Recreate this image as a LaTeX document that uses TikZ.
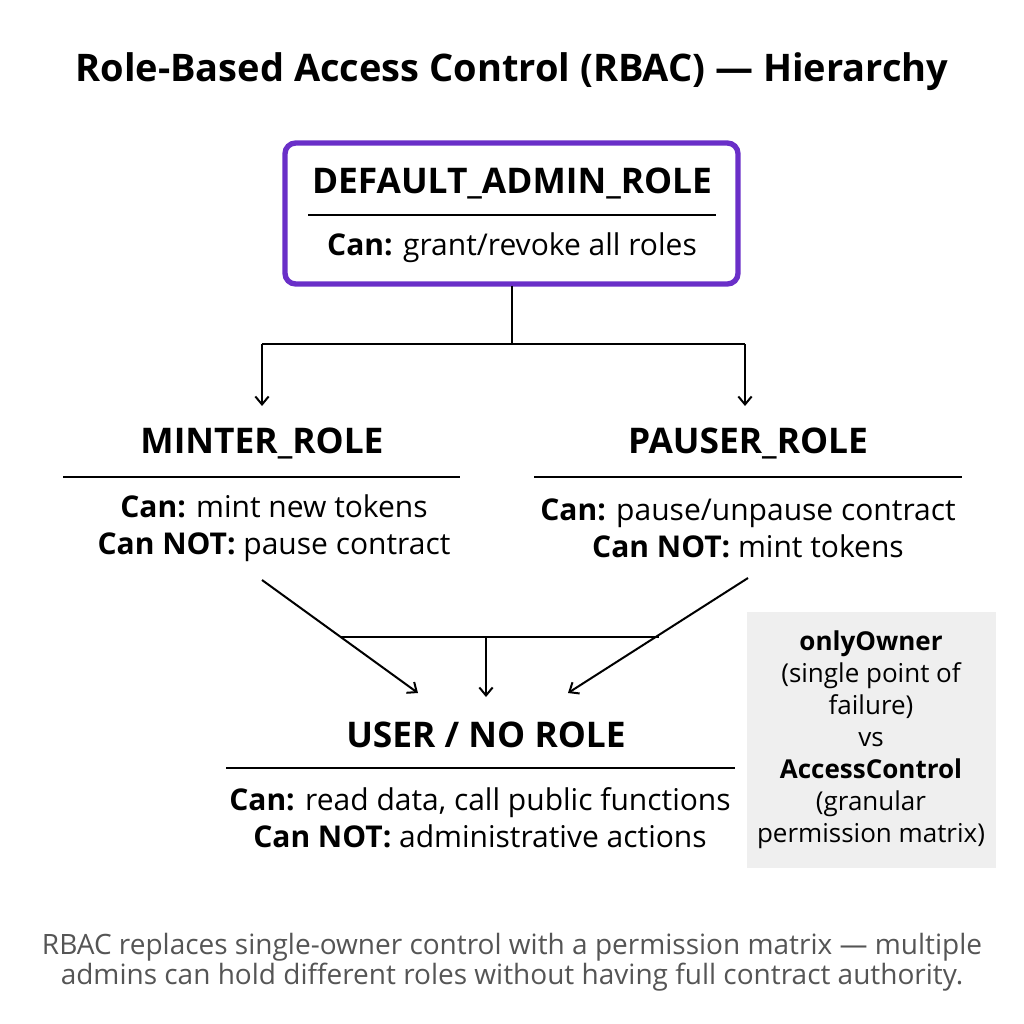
\documentclass[tikz,border=0pt]{standalone}
\usepackage{fontspec}
\setmainfont{Open Sans}
\usetikzlibrary{arrows.meta}
\definecolor{purp}{HTML}{6A2FC8}
\definecolor{gbox}{HTML}{EFEFEF}
\definecolor{foot}{HTML}{555555}
\begin{document}
\begin{tikzpicture}[x=0.75pt,y=-0.75pt,
  ttl/.style={font=\fontsize{28.5}{32}\selectfont\bfseries},
  role/.style={font=\fontsize{26.5}{30}\selectfont\bfseries},
  txt/.style={font=\fontsize{22.5}{27.75}\selectfont},
  side/.style={font=\fontsize{19.5}{24}\selectfont,align=center},
  ln/.style={line width=1.5pt},
  arr/.style={line width=1.5pt,-{Straight Barb[length=6pt,width=10pt]}}]
\useasboundingbox (0,0) rectangle (1024,1024);
\node[ttl] (title) at (512,72) {Role-Based Access Control (RBAC) — Hierarchy};
\draw[purp,line width=4pt,rounded corners=8pt] (285,143) rectangle (738,284);
\node[role] (adm) at (512,183) {DEFAULT\_ADMIN\_ROLE};
\draw[ln] (308,215) -- (716,215);
\node[txt] (admt) at (512,248) {\textbf{Can:} grant/revoke all roles};
\coordinate (a0) at (512,286);
\coordinate (a1) at (512,344);
\coordinate (m0) at (262,344);
\coordinate (p0) at (745,344);
\coordinate (m1) at (262,406);
\coordinate (p1) at (745,406);
\draw[ln] (a0) -- (a1);
\draw[ln] (m0) -- (p0);
\draw[arr] (m0) -- (m1);
\draw[arr] (p0) -- (p1);
\node[role] (min) at (262,443) {MINTER\_ROLE};
\draw[ln] (63,477) -- (460,477);
\node[txt,align=center] (mint) at (274,528) {\textbf{Can:} mint new tokens\\\textbf{Can NOT:} pause contract};
\node[role] (pau) at (748,443) {PAUSER\_ROLE};
\draw[ln] (534,477) -- (962,477);
\node[txt,align=center] (paut) at (748,528) {\textbf{Can:} pause/unpause contract\\\textbf{Can NOT:} mint tokens};
\coordinate (d1) at (262,580);
\coordinate (d2) at (418,693);
\coordinate (e1) at (748,578);
\coordinate (e2) at (568,693);
\coordinate (h1) at (341,637);
\coordinate (h2) at (659,637);
\coordinate (v1) at (486,637);
\coordinate (v2) at (486,697);
\draw[arr] (d1) -- (d2);
\draw[arr] (e1) -- (e2);
\draw[ln] (h1) -- (h2);
\draw[arr] (v1) -- (v2);
\node[role] (usr) at (486,735) {USER / NO ROLE};
\draw[ln] (226,768) -- (735,768);
\node[txt,align=center] (usrt) at (480,818) {\textbf{Can:} read data, call public functions\\\textbf{Can NOT:} administrative actions};
\fill[gbox] (747,612) rectangle (996,868);
\node[side] (sd) at (871,740) {\textbf{onlyOwner}\\(single point of\\failure)\\vs\\\textbf{AccessControl}\\(granular\\permission matrix)};
\node[text=foot,align=center,font=\fontsize{21}{22.5}\selectfont] (ft) at (512,962) {RBAC replaces single-owner control with a permission matrix — multiple\\admins can hold different roles without having full contract authority.};
\end{tikzpicture}
\end{document}
